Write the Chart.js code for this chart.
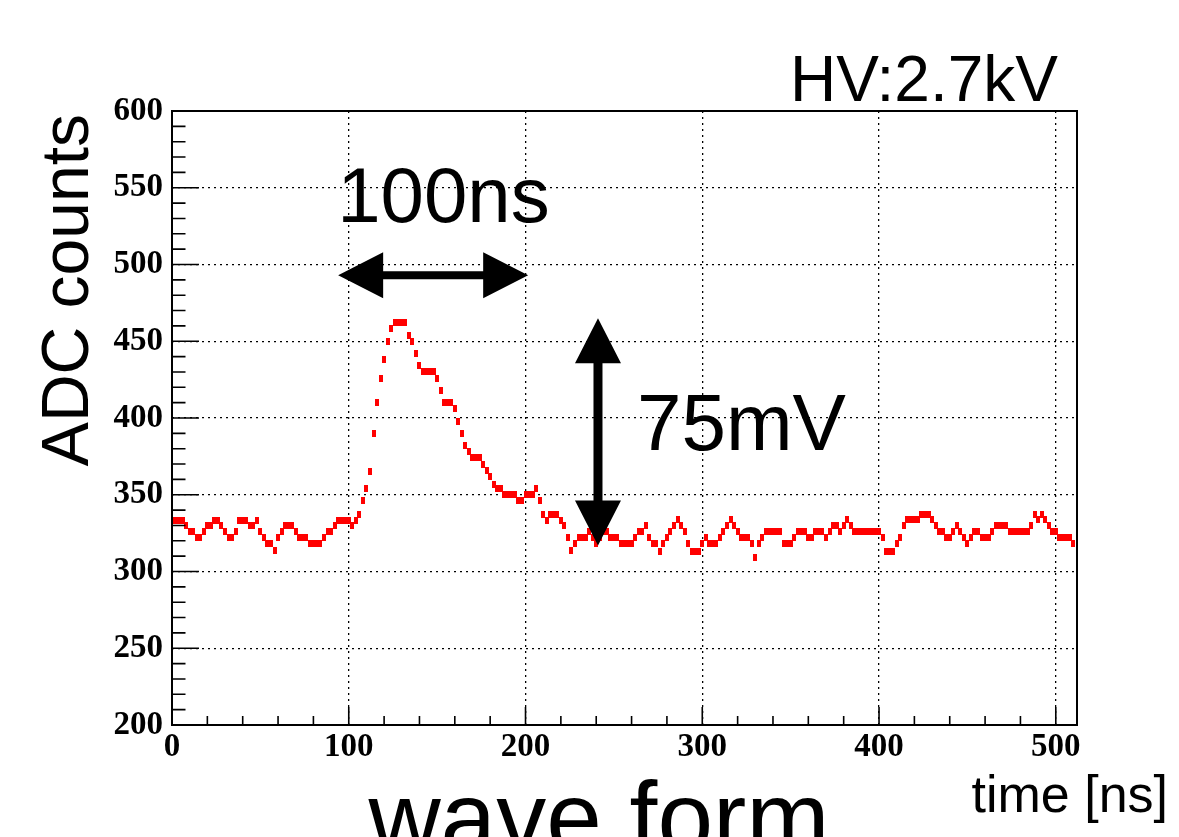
<!DOCTYPE html>
<html>
<head>
<meta charset="utf-8">
<script src="https://cdn.jsdelivr.net/npm/chart.js@4.4.1/dist/chart.umd.min.js"></script>
<style>
  html, body { margin: 0; padding: 0; background: #fff; }
  #wrap { width: 1179px; height: 837px; }
</style>
</head>
<body>
<div id="wrap"><canvas id="waveChart" width="1179" height="837"></canvas></div>
<script>
// one ADC sample every 2 ns
const sampleStep = 2;
const adcCounts = [
    333,333,333,333,330,326,326,322,322,326,330,330,333,333,330,326,
    322,322,326,333,333,333,330,330,333,326,322,318,318,314,322,326,
    330,330,330,326,322,322,322,318,318,318,318,322,326,326,330,333,
    333,333,333,330,333,337,346,354,365,390,410,426,438,450,458,462,
    462,462,462,454,450,442,434,430,430,430,430,426,418,410,410,410,
    406,398,390,382,378,374,374,374,370,366,362,357,354,354,350,350,
    350,350,346,346,350,350,350,354,346,337,333,337,337,337,333,330,
    322,314,318,322,322,322,326,322,318,322,326,326,322,322,322,318,
    318,318,318,322,326,326,330,322,318,318,313,318,322,326,330,334,
    330,326,318,313,313,313,318,322,318,318,318,322,326,330,334,330,
    326,322,322,322,318,309,318,322,326,326,326,326,326,318,318,318,
    322,326,326,326,322,322,326,326,326,322,326,330,330,326,330,334,
    330,326,326,326,326,326,326,326,326,322,313,313,313,318,322,330,
    334,334,334,334,337,337,337,334,330,326,326,322,322,326,330,326,
    322,318,322,326,326,322,322,322,326,330,330,330,330,326,326,326,
    326,326,326,330,337,334,337,334,330,326,326,322,322,322,322,318
];

// axes
const xRange = [0, 512];
const yRange = [200, 600];
const xTicks = [0, 100, 200, 300, 400, 500];
const yTicks = [200, 250, 300, 350, 400, 450, 500, 550, 600];
const xMinorStep = 20;
const yMinorStep = 10;

// annotations (arrow ends in axis units)
const hvText = "HV:2.7kV";
const widthText = "100ns";
const heightText = "75mV";
const widthArrow = { from: 94, to: 201.5, at: 493 };
const heightArrow = { at: 241, from: 317, to: 465 };

const points = adcCounts.map((v, i) => ({ x: i * sampleStep, y: v }));

// small red box marker like the ROOT graph
const marker = document.createElement('canvas');
marker.width = 4;
marker.height = 7;
const mctx = marker.getContext('2d');
mctx.fillStyle = '#ff0000';
mctx.fillRect(0, 0, 4, 7);

function arrowH(ctx, x0, x1, yc, head, half, shaft) {
    ctx.beginPath();
    ctx.moveTo(x0, yc);
    ctx.lineTo(x0 + head, yc - half);
    ctx.lineTo(x0 + head, yc - shaft / 2);
    ctx.lineTo(x1 - head, yc - shaft / 2);
    ctx.lineTo(x1 - head, yc - half);
    ctx.lineTo(x1, yc);
    ctx.lineTo(x1 - head, yc + half);
    ctx.lineTo(x1 - head, yc + shaft / 2);
    ctx.lineTo(x0 + head, yc + shaft / 2);
    ctx.lineTo(x0 + head, yc + half);
    ctx.closePath();
    ctx.fill();
}

function arrowV(ctx, xc, y0, y1, head, half, shaft) {
    // y0 = top tip, y1 = bottom tip
    ctx.beginPath();
    ctx.moveTo(xc, y0);
    ctx.lineTo(xc + half, y0 + head);
    ctx.lineTo(xc + shaft / 2, y0 + head);
    ctx.lineTo(xc + shaft / 2, y1 - head);
    ctx.lineTo(xc + half, y1 - head);
    ctx.lineTo(xc, y1);
    ctx.lineTo(xc - half, y1 - head);
    ctx.lineTo(xc - shaft / 2, y1 - head);
    ctx.lineTo(xc - shaft / 2, y0 + head);
    ctx.lineTo(xc - half, y0 + head);
    ctx.closePath();
    ctx.fill();
}

// frame, inner ticks, titles and the drawn-on notes
const rootStyle = {
    id: 'rootStyle',
    afterDraw(chart) {
        const { ctx, chartArea: a, scales: { x, y } } = chart;
        ctx.save();
        ctx.strokeStyle = '#000';
        ctx.fillStyle = '#000';

        ctx.lineWidth = 1.6;
        ctx.beginPath();
        for (let v = yRange[0]; v <= yRange[1]; v += yMinorStep) {
            const py = y.getPixelForValue(v);
            const len = yTicks.includes(v) ? 27 : 13.5;
            ctx.moveTo(a.left, py);
            ctx.lineTo(a.left + len, py);
        }
        for (let v = xRange[0]; v <= xRange[1]; v += xMinorStep) {
            const px = x.getPixelForValue(v);
            const len = xTicks.includes(v) ? 18 : 9;
            ctx.moveTo(px, a.bottom);
            ctx.lineTo(px, a.bottom - len);
        }
        ctx.stroke();

        ctx.lineWidth = 2;
        ctx.strokeRect(a.left, a.top, a.right - a.left, a.bottom - a.top);

        // axis titles
        ctx.font = '66px "Liberation Sans"';
        ctx.save();
        ctx.translate(88, a.top + 3);
        ctx.rotate(-Math.PI / 2);
        ctx.textAlign = 'right';
        ctx.textBaseline = 'alphabetic';
        ctx.fillText('ADC counts', 0, 0);
        ctx.restore();

        ctx.font = '52px "Liberation Sans"';
        ctx.textAlign = 'right';
        ctx.fillText('time [ns]', 1168, 812);

        ctx.font = '100px "Liberation Sans"';
        ctx.textAlign = 'center';
        ctx.fillText('wave form', 599, 852);

        ctx.font = '64px "Liberation Sans"';
        ctx.textAlign = 'right';
        ctx.fillText(hvText, 1058, 101);

        // 100ns arrow
        const hx0 = x.getPixelForValue(widthArrow.from);
        const hx1 = x.getPixelForValue(widthArrow.to);
        const hy = y.getPixelForValue(widthArrow.at);
        arrowH(ctx, hx0, hx1, hy, 45, 23, 8);
        ctx.font = '78px "Liberation Sans"';
        ctx.textAlign = 'left';
        ctx.fillText(widthText, hx0 - 1, hy - 53);

        // 75mV arrow
        const vx = x.getPixelForValue(heightArrow.at);
        const vy0 = y.getPixelForValue(heightArrow.to);
        const vy1 = y.getPixelForValue(heightArrow.from);
        arrowV(ctx, vx, vy0, vy1, 45, 23, 9);
        ctx.font = '80px "Liberation Sans"';
        ctx.fillText(heightText, vx + 39, (vy0 + vy1) / 2 + 18);

        ctx.restore();
    }
};

const tickFont = { family: 'Liberation Serif', weight: 'bold', size: 33 };

new Chart(document.getElementById('waveChart'), {
    type: 'scatter',
    data: {
        datasets: [{
            data: points,
            pointStyle: marker,
            pointRadius: 3,
            showLine: false
        }]
    },
    options: {
        responsive: false,
        animation: false,
        events: [],
        layout: { padding: { top: 111, right: 102, left: 0, bottom: 0 } },
        plugins: { legend: { display: false }, tooltip: { enabled: false } },
        scales: {
            x: {
                type: 'linear',
                min: xRange[0],
                max: xRange[1],
                afterBuildTicks: s => { s.ticks = xTicks.map(v => ({ value: v })); },
                afterFit: s => { s.height = 837 - 725; },
                grid: { color: '#000', lineWidth: 1.3, drawTicks: false },
                border: { display: false, dash: [2, 4] },
                ticks: { color: '#000', font: tickFont, padding: 3, autoSkip: false, maxRotation: 0 }
            },
            y: {
                type: 'linear',
                min: yRange[0],
                max: yRange[1],
                afterBuildTicks: s => { s.ticks = yTicks.map(v => ({ value: v })); },
                afterFit: s => { s.width = 172; },
                grid: { color: '#000', lineWidth: 1.3, drawTicks: false },
                border: { display: false, dash: [2, 4] },
                ticks: { color: '#000', font: tickFont, padding: 9 }
            }
        }
    },
    plugins: [rootStyle]
});
</script>
</body>
</html>
